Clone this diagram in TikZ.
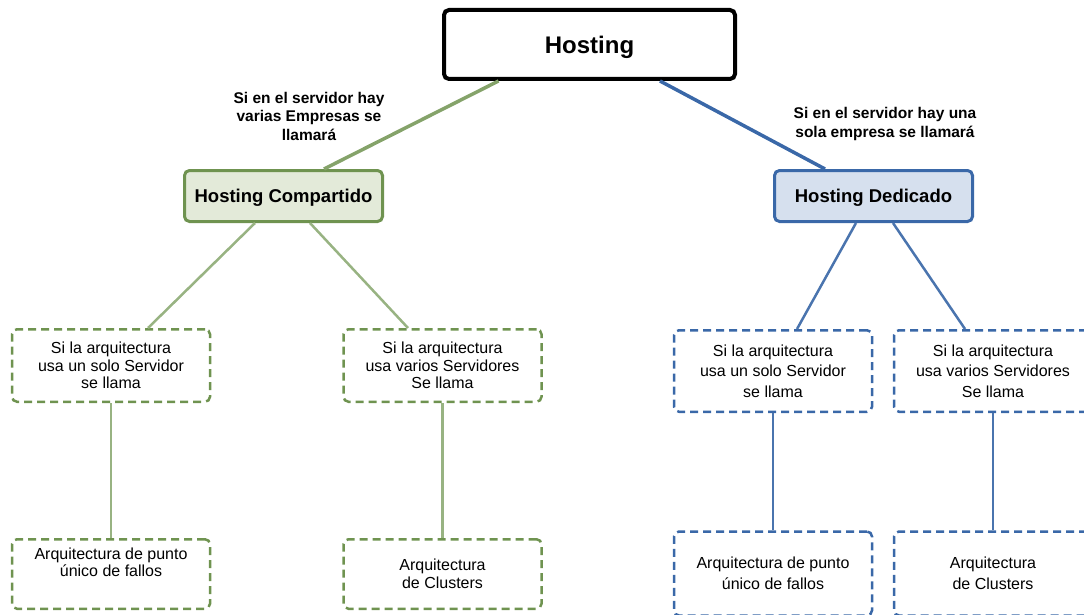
\documentclass[tikz,border=0pt]{standalone}
\usepackage{fontspec}
\setmainfont{Liberation Sans}
\usepackage{xcolor}
\usepackage{tikz}

\definecolor{compline}{HTML}{6F9350}
\definecolor{compfill}{HTML}{E3EAD9}
\definecolor{compedge}{HTML}{98B382}
\definecolor{dedline}{HTML}{3A68A8}
\definecolor{dedfill}{HTML}{D6E0EE}
\definecolor{dededge}{HTML}{4A74AE}

\begin{document}
\begin{tikzpicture}[x=1pt, y=-1pt,
    every node/.style={align=center, text=black, inner sep=0pt},
    root/.style={draw=black, line width=4pt, rounded corners=5pt, minimum width=291pt, minimum height=69pt, text depth=0pt, font=\bfseries\fontsize{24}{28}\selectfont},
    comp/.style={draw=compline, fill=compfill, line width=3pt, rounded corners=5pt, minimum width=198pt, minimum height=51pt, text depth=0pt, font=\bfseries\fontsize{18.5}{22}\selectfont},
    ded/.style={comp, draw=dedline, fill=dedfill},
    greenbox/.style={draw=compline, line width=2.5pt, dash pattern=on 8pt off 5pt, rounded corners=5pt, minimum width=198pt, font=\fontsize{16}{17.5}\selectfont},
    bluebox/.style={greenbox, draw=dedline, font=\fontsize{16}{20.5}\selectfont},
    caption/.style={font=\bfseries\fontsize{15.5}{18.5}\selectfont},
    greenedge/.style={draw=compedge, line width=2.5pt},
    blueedge/.style={draw=dededge, line width=2.5pt}]
    \path[use as bounding box, clip] (0,0) rectangle (1084,615);

    % top level
    \node[root] (hosting) at (589.5,44.5) {Hosting};
    \node[comp] (compartido) at (283.5,196) {Hosting Compartido};
    \node[ded] (dedicado) at (873.5,196) {Hosting Dedicado};

    \node[caption] (lblcomp) at (309,116) {Si en el servidor hay\\varias Empresas se\\llamará};
    \node[caption] (lblded) at (885,124) {Si en el servidor hay una\\sola empresa se llamará};

    % shared hosting
    \node[greenbox, minimum height=72.5pt] (compuno) at (111,365.5) {Si la arquitectura\\usa un solo Servidor\\se llama};
    \node[greenbox, minimum height=72.5pt] (compvarios) at (442.5,365.5) {Si la arquitectura\\usa varios Servidores\\Se llama};
    \node[greenbox, minimum height=69.5pt] (compfallos) at (111,574) {Arquitectura de punto\\único de fallos\\[6pt]};
    \node[greenbox, minimum height=69.5pt] (compcluster) at (442.5,574) {Arquitectura\\de Clusters};

    % dedicated hosting
    \node[bluebox, minimum height=81.5pt] (deduno) at (773,371) {Si la arquitectura\\usa un solo Servidor\\se llama};
    \node[bluebox, minimum height=81.5pt] (dedvarios) at (993,371) {Si la arquitectura\\usa varios Servidores\\Se llama};
    \node[bluebox, minimum height=84pt] (dedfallos) at (773,573.5) {Arquitectura de punto\\único de fallos};
    \node[bluebox, minimum height=84pt] (dedcluster) at (993,573.5) {Arquitectura\\de Clusters};

    % connectors
    \draw[greenedge, draw=compline!85, line width=3.5pt] ([xshift=-91pt]hosting.south) -- ([xshift=40.5pt]compartido.north);
    \draw[blueedge, draw=dedline, line width=3.5pt] ([xshift=70.5pt]hosting.south) -- ([xshift=-48.5pt]dedicado.north);

    \draw[greenedge] ([xshift=-28.5pt]compartido.south) -- ([xshift=37pt]compuno.north);
    \draw[greenedge] ([xshift=26.5pt]compartido.south) -- ([xshift=-34.5pt]compvarios.north);
    \draw[greenedge] (compuno.south) -- (compfallos.north);
    \draw[greenedge] (compvarios.south) -- (compcluster.north);

    \draw[blueedge] ([xshift=-17.5pt]dedicado.south) -- ([xshift=24pt]deduno.north);
    \draw[blueedge] ([xshift=19.5pt]dedicado.south) -- ([xshift=-28pt]dedvarios.north);
    \draw[blueedge] (deduno.south) -- (dedfallos.north);
    \draw[blueedge] (dedvarios.south) -- (dedcluster.north);
\end{tikzpicture}
\end{document}
